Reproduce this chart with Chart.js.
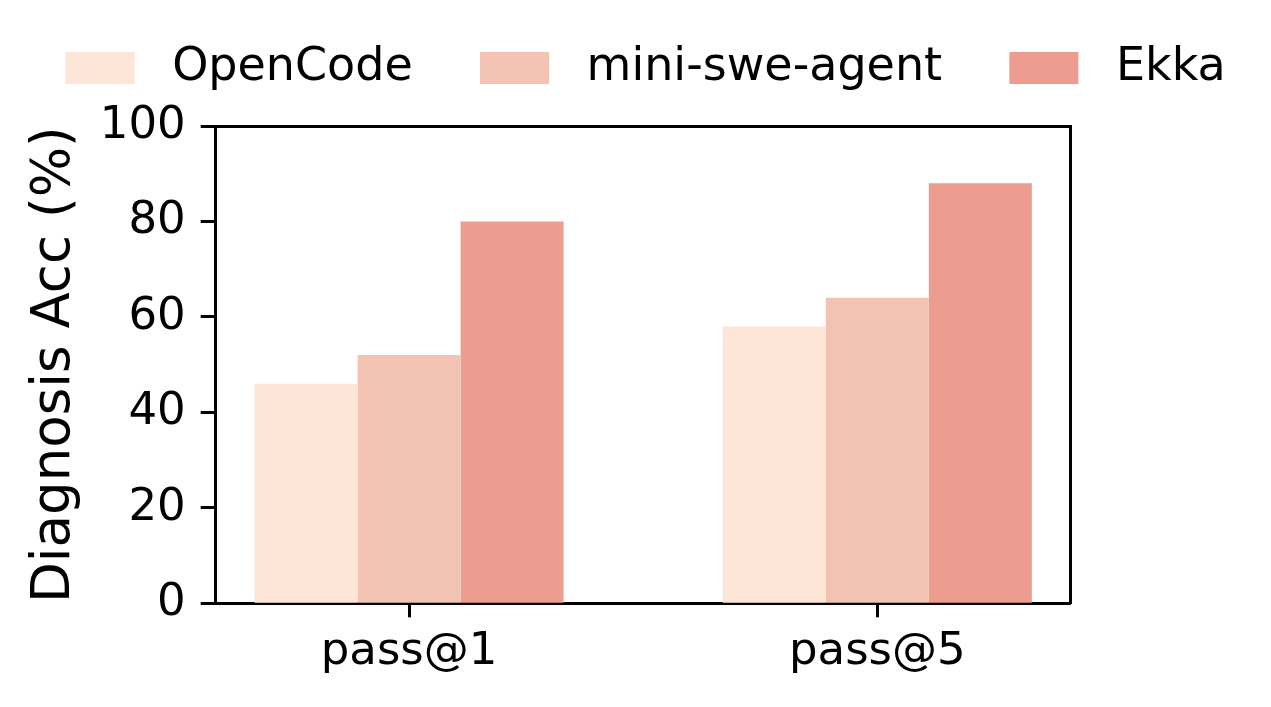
<!DOCTYPE html>
<html>
<head>
<meta charset="utf-8">
<script src="https://cdn.jsdelivr.net/npm/chart.js@4.4.0/dist/chart.umd.min.js"></script>
<style>
    html, body { margin: 0; padding: 0; background: #fff; }
</style>
</head>
<body>
<canvas id="graficoDiagnosis" width="1271" height="707"></canvas>
<script>
// Datos
const categorias = ["pass@1", "pass@5"];
const opencode = [46, 58];
const miniSweAgent = [52, 64];
const ekka = [80, 88];
const nombres = ["OpenCode", "mini-swe-agent", "Ekka"];
const colores = ["#fde6d8", "#f2c3b3", "#ed9c90"];
const yMin = 0;
const yMax = 100;
const yPaso = 20;

const fuente = "'DejaVu Sans', sans-serif";
const margenIzq = 20.2;

// cada categoria va en su posicion 0, 1 del eje x lineal
function puntos(valores) {
    return categorias.map((c, i) => ({ x: i, y: valores[i] }));
}

const series = [opencode, miniSweAgent, ekka];

const datasets = series.map((valores, i) => ({
    label: nombres[i],
    data: puntos(valores),
    backgroundColor: colores[i],
    borderColor: colores[i],
    borderWidth: 0,
    categoryPercentage: 0.66,
    barPercentage: 1.0
}));

Chart.defaults.color = "#000";
Chart.defaults.font.family = fuente;

const ctx = document.getElementById("graficoDiagnosis");

new Chart(ctx, {
    type: "bar",
    data: { datasets: datasets },
    options: {
        responsive: false,
        animation: false,
        layout: { padding: { top: 7, left: margenIzq, right: 0, bottom: 0 } },
        plugins: {
            tooltip: { enabled: false },
            legend: {
                position: "top",
                labels: {
                    boxWidth: 69,
                    boxHeight: 32,
                    padding: 38,
                    color: "#000",
                    font: { size: 46, family: fuente },
                    // espacio extra entre cuadro y texto, y entre items
                    generateLabels: (chart) => {
                        const base = Chart.defaults.plugins.legend.labels.generateLabels(chart);
                        return base.map((item, i) => ({
                            ...item,
                            text: " " + item.text + (i < base.length - 1 ? "  " : ""),
                            lineWidth: 0
                        }));
                    }
                }
            }
        },
        scales: {
            x: {
                type: "linear",
                position: "bottom",
                min: -0.413,
                max: 1.413,
                offset: false,
                afterBuildTicks: (scale) => {
                    scale.ticks = categorias.map((c, i) => ({ value: i }));
                },
                afterFit: (scale) => { scale.height = 707 - 603.3; },
                ticks: {
                    callback: (value) => categorias[value],
                    font: { size: 45, family: fuente },
                    color: "#000",
                    padding: 8,
                    maxRotation: 0,
                    autoSkip: false
                },
                grid: {
                    display: true,
                    offset: false,
                    drawOnChartArea: false,
                    drawTicks: true,
                    tickLength: 14,
                    tickWidth: 3,
                    tickColor: "#000"
                },
                border: { display: true, color: "#000", width: 3 }
            },
            x2: {
                type: "linear",
                position: "top",
                afterFit: (scale) => { scale.height = 25; },
                ticks: { display: false },
                grid: { display: false },
                border: { display: true, color: "#000", width: 3 }
            },
            y: {
                type: "linear",
                position: "left",
                min: yMin,
                max: yMax,
                afterFit: (scale) => { scale.width = 215.7 - margenIzq; },
                ticks: {
                    stepSize: yPaso,
                    font: { size: 45, family: fuente },
                    color: "#000",
                    padding: 15
                },
                grid: {
                    display: true,
                    drawOnChartArea: false,
                    drawTicks: true,
                    tickLength: 15,
                    tickWidth: 3,
                    tickColor: "#000"
                },
                border: { display: true, color: "#000", width: 3 },
                title: {
                    display: true,
                    text: "Diagnosis Acc (%)",
                    color: "#000",
                    font: { size: 53, family: fuente, lineHeight: 1 },
                    padding: { top: 9, bottom: 0 }
                }
            },
            y2: {
                type: "linear",
                position: "right",
                afterFit: (scale) => { scale.width = 1271 - 1070.7; },
                ticks: { display: false },
                grid: { display: false },
                border: { display: true, color: "#000", width: 3 }
            }
        }
    }
});
</script>
</body>
</html>
